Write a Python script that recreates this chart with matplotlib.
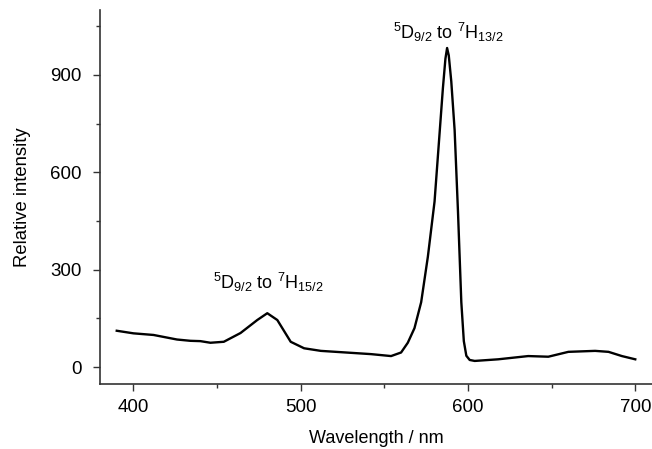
import matplotlib.pyplot as plt
from matplotlib.ticker import MultipleLocator

plt.rcParams['font.family'] = ['Liberation Sans', 'DejaVu Sans']
plt.rcParams['mathtext.fontset'] = 'custom'
plt.rcParams['mathtext.rm'] = 'Liberation Sans'
plt.rcParams['mathtext.it'] = 'Liberation Sans:italic'

wavelength = [390, 400, 412, 426, 434, 440, 446, 454, 464, 474, 480, 486, 494, 502,
              512, 530, 542, 554, 560, 564, 568, 572, 576, 580, 583, 585, 586.5,
              587.5, 588.5, 590, 592, 594, 596, 597.5, 599, 601, 604, 618, 636,
              648, 660, 676, 684, 692, 700]
intensity = [112, 104, 99, 85, 81, 80, 75, 78, 105, 145, 166, 145, 78, 58,
             50, 44, 40, 34, 45, 75, 120, 200, 340, 510, 720, 860, 950,
             983, 960, 880, 730, 480, 200, 80, 35, 22, 19, 24, 34,
             32, 47, 50, 47, 34, 24]

peak_labels = [r'$^5$D$_{9/2}$ to $^7$H$_{15/2}$', r'$^5$D$_{9/2}$ to $^7$H$_{13/2}$']
peak_pos = [(480.5, 226), (588.5, 995)]

fig = plt.figure(figsize=(6.52, 4.49), dpi=100)
ax = fig.add_axes([0.1534, 0.1448, 0.8466, 0.8329])

ax.plot(wavelength, intensity, color='black', lw=1.7)

for txt, (x, y) in zip(peak_labels, peak_pos):
    ax.text(x, y, txt, ha='center', va='bottom', fontsize=13)

ax.set_xlim(380, 710)
ax.set_ylim(-52, 1100)
ax.xaxis.set_major_locator(MultipleLocator(100))
ax.xaxis.set_minor_locator(MultipleLocator(50))
ax.yaxis.set_major_locator(MultipleLocator(300))
ax.yaxis.set_minor_locator(MultipleLocator(150))
ax.tick_params(which='both', direction='out', labelsize=13.5, width=1, color='#333333')
ax.tick_params(which='major', length=5)
ax.tick_params(which='minor', length=3)
ax.tick_params(axis='x', which='major', pad=6)
ax.tick_params(axis='y', which='major', pad=8)

for s in ['top', 'right']:
    ax.spines[s].set_visible(False)
for s in ['left', 'bottom']:
    ax.spines[s].set_linewidth(1.2)
    ax.spines[s].set_color('#333333')

ax.set_xlabel('Wavelength / nm', fontsize=13, labelpad=10)
ax.set_ylabel('Relative intensity', fontsize=13.3, labelpad=14)

fig.savefig('out.png', dpi=100)
